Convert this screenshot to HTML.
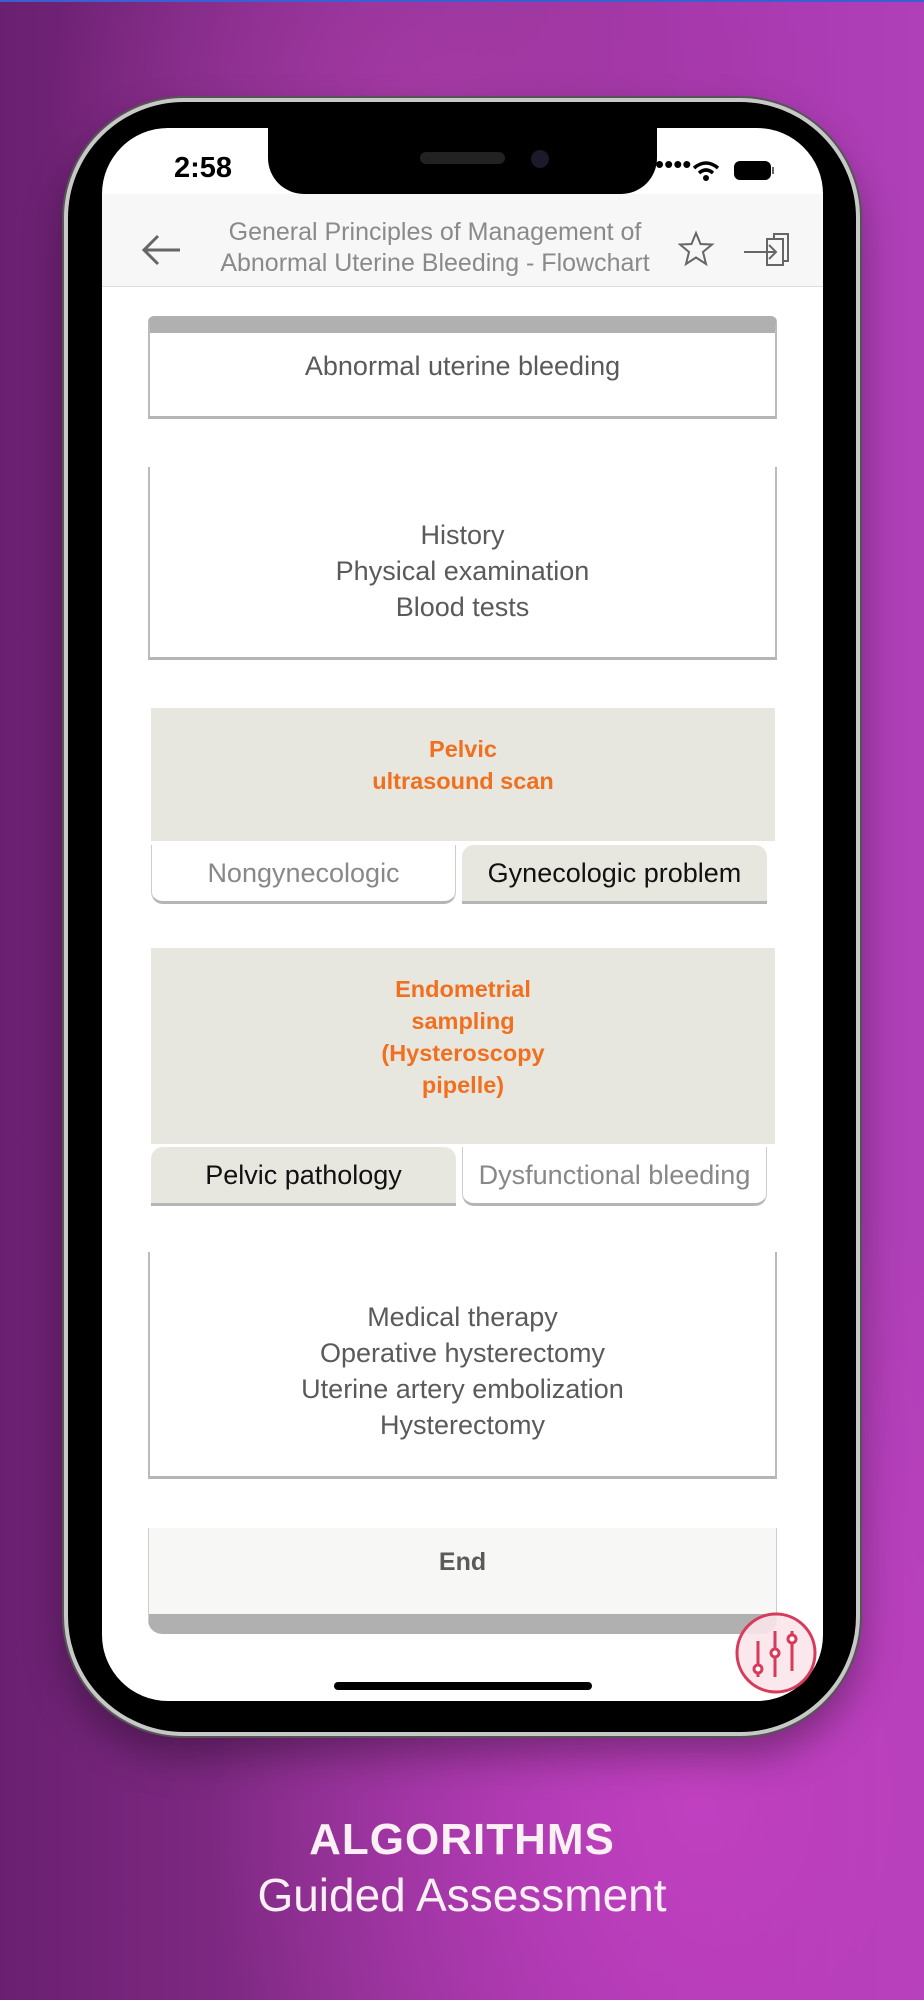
<!DOCTYPE html>
<html><head><meta charset="utf-8"><style>
*{margin:0;padding:0;box-sizing:border-box}
body{width:924px;height:2000px;overflow:hidden;position:relative;font-family:"Liberation Sans",sans-serif;
background:radial-gradient(ellipse 700px 900px at 700px 1800px,#c040c0 0%,rgba(180,60,180,0) 70%),radial-gradient(ellipse 500px 400px at 450px 100px,#a43aa4 0%,rgba(160,50,160,0) 80%),linear-gradient(90deg,#6a2070 0%,#8a2e8e 40%,#a838b0 75%,#b040b8 100%);}
.abs{position:absolute}
.phone{left:64px;top:98px;width:796px;height:1638px;border-radius:120px;background:#000;border:4px solid #c8c8c8;box-shadow:0 0 0 2px #555,0 20px 40px rgba(0,0,0,.35)}
.screen{left:102px;top:128px;width:721px;height:1573px;border-radius:66px;background:#fff;overflow:hidden}
.notch{left:268px;top:120px;width:389px;height:74px;background:#000;border-radius:0 0 36px 36px}
.t{color:#5a5a5a;font-size:27px;text-align:center;position:absolute;left:0;right:0}
.box{position:absolute;left:148px;width:629px;background:#fff;border-left:2px solid #bbb;border-right:2px solid #bbb;border-bottom:3px solid #b5b5b5}
.beige{position:absolute;background:#e8e7df}
.or{color:#f07020;font-weight:bold;font-size:23.5px;text-align:center;line-height:32px}
.btn{position:absolute;height:59px;font-size:27px;text-align:center;line-height:56px;border-radius:0 0 12px 12px;border-bottom:3px solid #b5b5b5}
</style></head><body>
<div class="abs" style="left:0;top:0;width:924px;height:2px;background:#3a5fd0"></div>
<div class="abs phone"></div>
<div class="abs screen">
 <div class="abs" style="left:0;top:66px;width:721px;height:93px;background:#f7f7f7;border-bottom:1px solid #ddd"></div>
</div>
<div class="abs notch"></div>
<div class="abs" style="left:420px;top:152px;width:85px;height:12px;border-radius:6px;background:#222"></div>
<div class="abs" style="left:531px;top:150px;width:18px;height:18px;border-radius:9px;background:#1a1a2a"></div>
<div class="abs" style="left:174px;top:152px;font-size:29px;font-weight:bold;color:#000">2:58</div>
<div class="abs" style="left:655px;top:151px;color:#000;font-size:26px;line-height:26px">&#8226;&#8226;&#8226;&#8226;</div>
<svg class="abs" style="left:690px;top:158px" width="100" height="28"><path d="M4 10 Q16 0 28 10" stroke="#000" stroke-width="3.5" fill="none"/><path d="M9 15 Q16 9 23 15" stroke="#000" stroke-width="3.5" fill="none"/><circle cx="16" cy="20" r="3" fill="#000"/><rect x="45" y="4" width="35" height="17" rx="5" fill="#000" stroke="#000" stroke-width="2"/><rect x="82" y="9" width="2" height="7" fill="#666"/></svg>
<svg class="abs" style="left:138px;top:228px" width="50" height="44"><path d="M42 22 H6 M20 8 L6 22 L20 36" stroke="#666" stroke-width="3" fill="none"/></svg>
<div class="abs" style="left:190px;top:217px;width:490px;text-align:center;color:#8a8a8a;font-size:25px;line-height:31px">General Principles of Management of<br>Abnormal Uterine Bleeding - Flowchart</div>
<svg class="abs" style="left:678px;top:230px" width="120" height="40"><path d="M18 3 L22.5 14 L34 14.5 L25 22 L28 34 L18 27.5 L8 34 L11 22 L2 14.5 L13.5 14 Z" stroke="#666" stroke-width="2" fill="none"/><rect x="96" y="4" width="14" height="27" stroke="#666" stroke-width="2" fill="none"/><rect x="89" y="9" width="16" height="26" stroke="#666" stroke-width="2" fill="#f7f7f7"/><path d="M66 22 H98 M91 15 L98 22 L91 29" stroke="#666" stroke-width="2" fill="none"/></svg>

<div class="box" style="top:316px;height:103px;border-top:17px solid #b0b0b0;border-radius:6px 6px 0 0"><div class="t" style="top:18px">Abnormal uterine bleeding</div></div>
<div class="box" style="top:467px;height:193px"><div class="t" style="top:50px;line-height:36px">History<br>Physical examination<br>Blood tests</div></div>

<div class="beige" style="left:151px;top:708px;width:624px;height:133px"><div class="or" style="margin-top:25px">Pelvic<br>ultrasound scan</div></div>
<div class="btn" style="left:151px;top:845px;width:305px;background:#fff;color:#888;border-left:1px solid #ccc;border-right:1px solid #ccc">Nongynecologic</div>
<div class="btn" style="left:462px;top:845px;width:305px;background:#e8e7df;color:#111;border-radius:12px 12px 0 0">Gynecologic problem</div>

<div class="beige" style="left:151px;top:948px;width:624px;height:196px"><div class="or" style="margin-top:25px">Endometrial<br>sampling<br>(Hysteroscopy<br>pipelle)</div></div>
<div class="btn" style="left:151px;top:1147px;width:305px;background:#e8e7df;color:#111;border-radius:12px 12px 0 0">Pelvic pathology</div>
<div class="btn" style="left:462px;top:1147px;width:305px;background:#fff;color:#888;border-left:1px solid #ccc;border-right:1px solid #ccc">Dysfunctional bleeding</div>

<div class="box" style="top:1252px;height:227px"><div class="t" style="top:47px;line-height:36px">Medical therapy<br>Operative hysterectomy<br>Uterine artery embolization<br>Hysterectomy</div></div>

<div class="abs" style="left:148px;top:1528px;width:629px;height:106px;background:#f7f7f5;border-left:1px solid #ccc;border-right:1px solid #ccc;border-bottom:20px solid #b0b0b0;border-radius:0 0 14px 14px"><div class="t" style="top:20px;font-weight:bold;font-size:25px">End</div></div>

<div class="abs" style="left:334px;top:1682px;width:258px;height:8px;border-radius:4px;background:#000"></div>
<svg class="abs" style="left:734px;top:1611px" width="84" height="84"><circle cx="42" cy="42" r="39" fill="rgba(250,230,235,.9)" stroke="#d83a5a" stroke-width="3"/><g stroke="#d83a5a" stroke-width="3" fill="#fff"><line x1="24" y1="30" x2="24" y2="66"/><line x1="41" y1="20" x2="41" y2="66"/><line x1="58" y1="20" x2="58" y2="60"/><circle cx="24" cy="58" r="4"/><circle cx="41" cy="42" r="4"/><circle cx="58" cy="28" r="4"/></g></svg>

<div class="abs" style="left:0;width:924px;top:1815px;text-align:center;color:#fbf0f4;font-weight:bold;font-size:44px;letter-spacing:1px">ALGORITHMS</div>
<div class="abs" style="left:0;width:924px;top:1868px;text-align:center;color:#fbf0f4;font-size:46px">Guided Assessment</div>
</body></html>
